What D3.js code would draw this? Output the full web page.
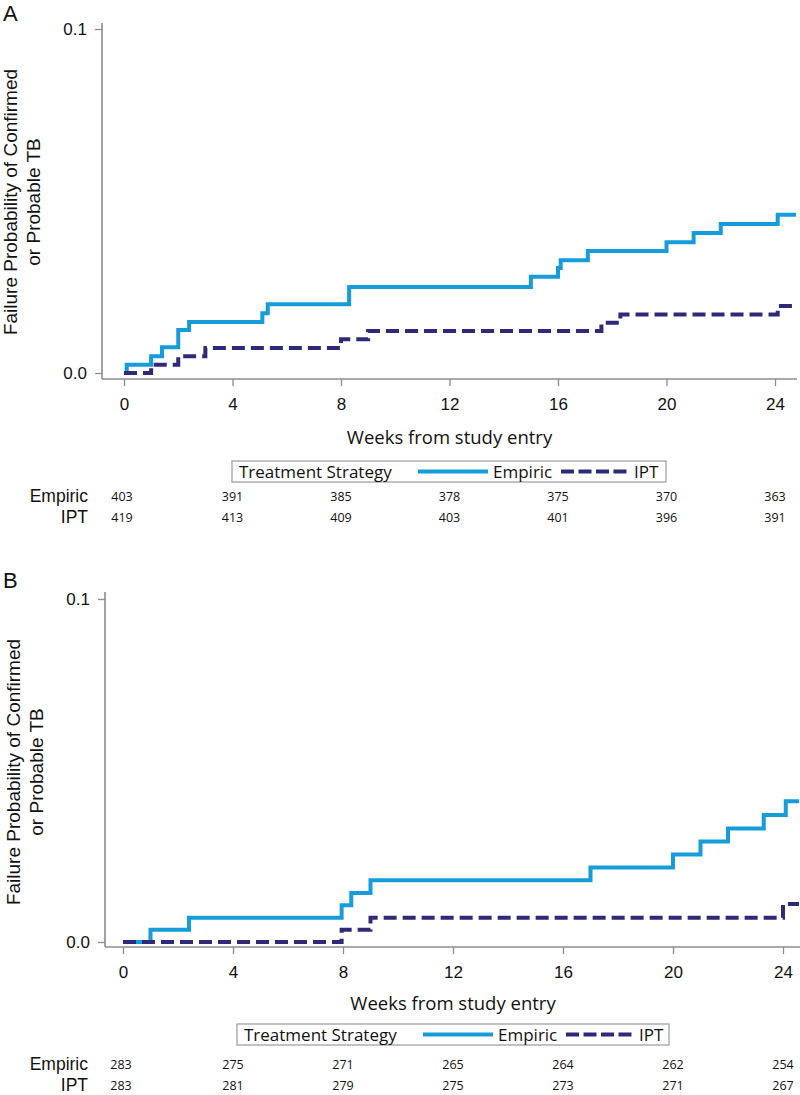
<!DOCTYPE html>
<html>
<head>
<meta charset="utf-8">
<script src="https://cdn.jsdelivr.net/npm/d3@7"></script>
<style>
  html, body { margin: 0; padding: 0; background: #fff; }
  svg { display: block; }
</style>
</head>
<body>
<svg id="chart" width="800" height="1095"></svg>
<script>
// ---------------- DATA ----------------
const weekTicks = [0, 4, 8, 12, 16, 20, 24];
const probTicks = [0.0, 0.1];
const seriesNames = ["Empiric", "IPT"];
const legendTitle = "Treatment Strategy";
const xTitle = "Weeks from study entry";
const yTitleLines = ["Failure Probability of Confirmed", "or Probable TB"];

// Panel A – step times (weeks) and cumulative failure probability
const empiricA_t = [0, 0.1, 1.0, 1.4, 2.0, 2.4, 5.1, 5.3, 8.3, 15.0, 16.0, 16.1, 17.1, 20.0, 21.0, 22.0, 24.1];
const empiricA_p = [0, 0.0024, 0.0049, 0.0075, 0.0125, 0.0148, 0.0174, 0.0200, 0.0250, 0.0280, 0.0305, 0.0328, 0.0355, 0.0380, 0.0407, 0.0433, 0.0460];
const iptA_t = [0, 1.0, 2.0, 3.0, 8.0, 9.0, 17.6, 18.3, 24.1];
const iptA_p = [0, 0.0024, 0.0049, 0.0073, 0.0098, 0.0122, 0.0146, 0.0170, 0.0195];
const riskEmpiricA = [403, 391, 385, 378, 375, 370, 363];
const riskIptA = [419, 413, 409, 403, 401, 396, 391];

// Panel B
const empiricB_t = [0, 1.0, 2.4, 7.95, 8.3, 9.0, 17.0, 20.0, 21.0, 22.0, 23.3, 24.1];
const empiricB_p = [0, 0.0036, 0.0071, 0.0107, 0.0143, 0.0180, 0.0217, 0.0255, 0.0293, 0.0331, 0.0370, 0.0410];
const iptB_t = [0, 7.95, 9.0, 24.0];
const iptB_p = [0, 0.0036, 0.0071, 0.0111];
const riskEmpiricB = [283, 275, 271, 265, 264, 262, 254];
const riskIptB = [283, 281, 279, 275, 273, 271, 267];

// ---------------- STYLE / LAYOUT ----------------
const colors = { Empiric: "#169cd8", IPT: "#2e2a78" };
const axisColor = "#8c8c8c";
const arialFont = "'Liberation Sans', Arial, sans-serif";
const uiFont = "'Open Sans', 'Noto Sans', sans-serif";

const panels = [
  {
    label: "A", labelY: 21,
    axisX: 102, axisTop: 23, y0: 373, y1: 29, xAxisY: 379, xRight: 797,
    x0: 124, x24: 775, titleY: 444, yTitleCenter: 202, yTitleX: [17, 40],
    legend: { x: 232, y: 461, w: 434, h: 21 },
    riskRows: [496, 517],
    emp_t: empiricA_t, emp_p: empiricA_p, ipt_t: iptA_t, ipt_p: iptA_p,
    riskEmp: riskEmpiricA, riskIpt: riskIptA
  },
  {
    label: "B", labelY: 588,
    axisX: 105, axisTop: 592, y0: 942, y1: 599, xAxisY: 947, xRight: 800,
    x0: 123, x24: 783, titleY: 1010, yTitleCenter: 772, yTitleX: [20, 43],
    legend: { x: 237, y: 1024, w: 432, h: 21 },
    riskRows: [1064, 1085],
    emp_t: empiricB_t, emp_p: empiricB_p, ipt_t: iptB_t, ipt_p: iptB_p,
    riskEmp: riskEmpiricB, riskIpt: riskIptB
  }
];

const svg = d3.select("#chart");

panels.forEach(P => {
  const g = svg.append("g");
  const x = d3.scaleLinear().domain([0, 24]).range([P.x0, P.x24]);
  const y = d3.scaleLinear().domain([0, 0.1]).range([P.y0, P.y1]);
  const tEnd = x.invert(P.xRight - 1);

  // Panel label
  g.append("text").attr("x", 3).attr("y", P.labelY)
    .attr("font-family", arialFont).attr("font-size", 22).attr("fill", "#111")
    .text(P.label);

  // Y axis
  const yAxis = d3.axisLeft(y).tickValues(probTicks).tickFormat(d3.format(".1f"))
    .tickSize(7).tickPadding(8);
  const ya = g.append("g").attr("transform", `translate(${P.axisX},0)`).call(yAxis);
  ya.select(".domain").remove();
  ya.selectAll(".tick line").attr("stroke", axisColor).attr("stroke-width", 1.3);
  ya.selectAll(".tick text").attr("font-family", arialFont).attr("font-size", 17)
    .attr("fill", "#111");
  g.append("line").attr("x1", P.axisX).attr("x2", P.axisX)
    .attr("y1", P.axisTop).attr("y2", P.xAxisY)
    .attr("stroke", axisColor).attr("stroke-width", 1.6);

  // X axis
  const xAxis = d3.axisBottom(x).tickValues(weekTicks).tickFormat(d3.format("d"))
    .tickSize(7).tickPadding(12);
  const xa = g.append("g").attr("transform", `translate(0,${P.xAxisY})`).call(xAxis);
  xa.select(".domain").remove();
  xa.selectAll(".tick line").attr("stroke", axisColor).attr("stroke-width", 1.3);
  xa.selectAll(".tick text").attr("font-family", arialFont).attr("font-size", 17)
    .attr("fill", "#111");
  g.append("line").attr("x1", P.axisX).attr("x2", P.xRight)
    .attr("y1", P.xAxisY).attr("y2", P.xAxisY)
    .attr("stroke", axisColor).attr("stroke-width", 1.6);

  // Axis titles
  g.append("text").attr("x", (P.x0 + P.x24) / 2).attr("y", P.titleY)
    .attr("text-anchor", "middle").attr("font-family", uiFont).attr("font-size", 18.5)
    .attr("fill", "#111").text(xTitle);
  yTitleLines.forEach((line, i) => {
    g.append("text")
      .attr("transform", `translate(${P.yTitleX[i]},${P.yTitleCenter}) rotate(-90)`)
      .attr("text-anchor", "middle").attr("font-family", arialFont).attr("font-size", 19)
      .attr("fill", "#111").text(line);
  });

  // Step curves (IPT drawn on top, as in the reference)
  const line = d3.line().x(d => x(d[0])).y(d => y(d[1])).curve(d3.curveStepAfter);
  const mk = (ts, ps) => {
    const pts = ts.map((t, i) => [t, ps[i]]);
    pts.push([tEnd, ps[ps.length - 1]]);
    return pts;
  };
  g.append("path").datum(mk(P.emp_t, P.emp_p)).attr("d", line)
    .attr("fill", "none").attr("stroke", colors.Empiric).attr("stroke-width", 4);
  g.append("path").datum(mk(P.ipt_t, P.ipt_p)).attr("d", line)
    .attr("fill", "none").attr("stroke", colors.IPT).attr("stroke-width", 4)
    .attr("stroke-dasharray", "13,6");

  // Legend
  const L = P.legend;
  const lg = g.append("g");
  lg.append("rect").attr("x", L.x).attr("y", L.y).attr("width", L.w).attr("height", L.h)
    .attr("fill", "#fff").attr("stroke", "#999").attr("stroke-width", 1.2);
  const ly = L.y + L.h / 2;
  lg.append("text").attr("x", L.x + 7).attr("y", ly + 6)
    .attr("font-family", uiFont).attr("font-size", 17).attr("fill", "#111").text(legendTitle);
  lg.append("line").attr("x1", L.x + 186).attr("x2", L.x + 256).attr("y1", ly).attr("y2", ly)
    .attr("stroke", colors.Empiric).attr("stroke-width", 4);
  lg.append("text").attr("x", L.x + 261).attr("y", ly + 6)
    .attr("font-family", uiFont).attr("font-size", 17).attr("fill", "#111").text(seriesNames[0]);
  lg.append("line").attr("x1", L.x + 329).attr("x2", L.x + 395).attr("y1", ly).attr("y2", ly)
    .attr("stroke", colors.IPT).attr("stroke-width", 4).attr("stroke-dasharray", "13,4.5");
  lg.append("text").attr("x", L.x + 402).attr("y", ly + 6)
    .attr("font-family", uiFont).attr("font-size", 17).attr("fill", "#111").text(seriesNames[1]);

  // Risk table
  const rows = [P.riskEmp, P.riskIpt];
  rows.forEach((vals, r) => {
    const cy = P.riskRows[r];
    g.append("text").attr("x", 88).attr("y", cy + 6).attr("text-anchor", "end")
      .attr("font-family", arialFont).attr("font-size", 17.5).attr("fill", "#111")
      .text(seriesNames[r]);
    g.selectAll(null).data(vals).enter().append("text")
      .attr("x", (d, i) => x(weekTicks[i]) - (i === 0 ? 2 : 0))
      .attr("y", cy + 4.5).attr("text-anchor", "middle")
      .attr("font-family", uiFont).attr("font-size", 12.5).attr("fill", "#111")
      .text(d => d);
  });
});
</script>
</body>
</html>
